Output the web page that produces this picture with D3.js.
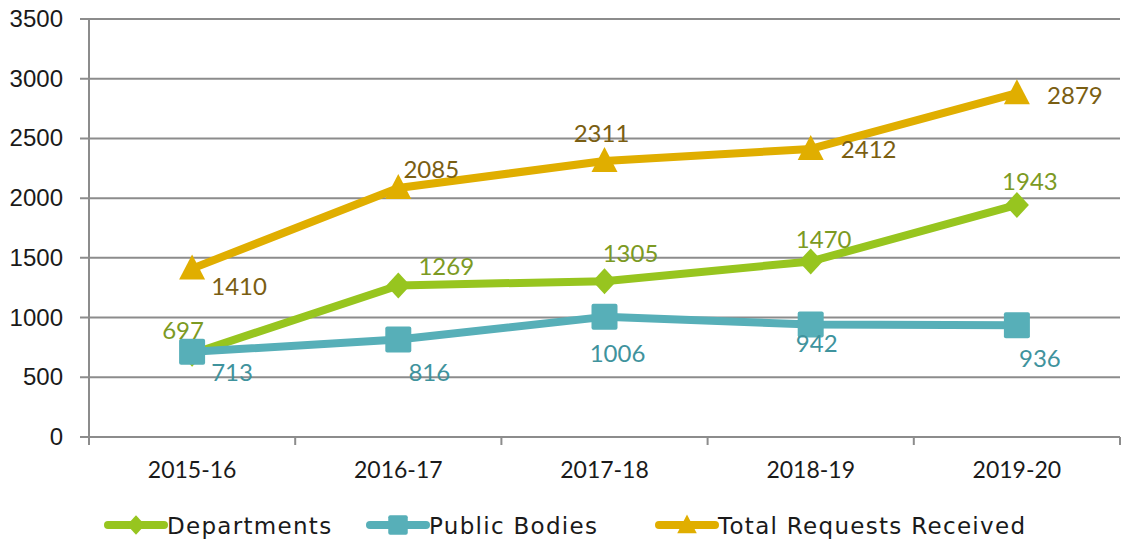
<!DOCTYPE html>
<html><head><meta charset="utf-8">
<script src="https://cdn.jsdelivr.net/npm/d3@7/dist/d3.min.js"></script>
<style>body{margin:0;background:#fff}svg{display:block}</style>
</head><body><svg id="c" width="1126" height="550"></svg>
<script>
const categories = ["2015-16","2016-17","2017-18","2018-19","2019-20"];
const departments = [697,1269,1305,1470,1943];
const publicBodies = [713,816,1006,942,936];
const totalRequests = [1410,2085,2311,2412,2879];
const yTicks = [0,500,1000,1500,2000,2500,3000,3500];
const seriesNames = ["Departments","Public Bodies","Total Requests Received"];

// label placement offsets relative to each point (layout, not data)
const labelOffsets = {
  dep: [[-9,-15],[48,-10],[26,-19],[13,-13],[13,-15]],
  pub: [[40,29],[31,41],[13,45],[6,28],[23,42]],
  tot: [[47,26],[33,-10],[-3,-19],[58,9],[58,11]]
};

const svg = d3.select("#c");
const m = {l:89, r:1120, t:19, b:437};
const x = d3.scaleBand().domain(categories).range([m.l, m.r]).padding(0);
const y = d3.scaleLinear().domain([0,3500]).range([m.b, m.t]);
const cx = c => x(c) + x.bandwidth()/2;
const grid = "#8c8c8c";
const labFont = "'Lato','Open Sans',sans-serif";
const legFont = "'DejaVu Sans',sans-serif";

// gridlines
svg.append("g").selectAll("line").data(yTicks).join("line")
  .attr("x1", m.l-9).attr("x2", m.r).attr("y1", d=>y(d)).attr("y2", d=>y(d))
  .attr("stroke", grid).attr("stroke-width", 2);
// y axis line
svg.append("line").attr("x1", m.l).attr("x2", m.l).attr("y1", m.t).attr("y2", m.b+8)
  .attr("stroke", grid).attr("stroke-width", 2);
// y labels
svg.append("g").selectAll("text").data(yTicks).join("text")
  .attr("x", 63).attr("y", d=>y(d)+8).attr("text-anchor","end")
  .attr("font-family","'Liberation Sans',Arial,sans-serif").attr("font-size",24).attr("fill","#1a1a1a")
  .text(d=>d);
// x ticks at band boundaries
const bounds = categories.map(c=>x(c)).concat([m.r]);
svg.append("g").selectAll("line").data(bounds).join("line")
  .attr("x1", d=>d).attr("x2", d=>d).attr("y1", m.b).attr("y2", m.b+8)
  .attr("stroke", grid).attr("stroke-width", 2);
// x labels
svg.append("g").selectAll("text").data(categories).join("text")
  .attr("x", d=>cx(d)).attr("y", 478).attr("text-anchor","middle")
  .attr("font-family",labFont).attr("font-size",23).attr("fill","#1a1a1a")
  .text(d=>d);

const series = [
  {key:"dep", vals:departments, color:"#97c51f", lab:"#7c9a23", marker:"diamond"},
  {key:"pub", vals:publicBodies, color:"#57afb8", lab:"#3f939d", marker:"square"},
  {key:"tot", vals:totalRequests, color:"#e0ae00", lab:"#7a5e12", marker:"triangle"}
];
const line = d3.line().x((d,i)=>cx(categories[i])).y(d=>y(d));

function drawMarker(g, type, px, py, color, s) {
  if (type==="diamond") {
    g.append("path").attr("d", `M${px},${py-13*s}L${px+12*s},${py}L${px},${py+13*s}L${px-12*s},${py}Z`).attr("fill",color);
  } else if (type==="square") {
    g.append("rect").attr("x",px-13*s).attr("y",py-13*s).attr("width",26*s).attr("height",26*s).attr("rx",2).attr("fill",color);
  } else {
    g.append("path").attr("d", `M${px},${py-14*s}L${px+13*s},${py+11*s}L${px-13*s},${py+11*s}Z`).attr("fill",color);
  }
}

series.forEach(s=>{
  const g = svg.append("g");
  g.append("path").datum(s.vals).attr("d", line).attr("fill","none")
    .attr("stroke", s.color).attr("stroke-width", 8).attr("stroke-linejoin","round");
  s.vals.forEach((v,i)=>drawMarker(g, s.marker, cx(categories[i]), y(v), s.color, 1));
});
series.forEach(s=>{
  svg.append("g").selectAll("text").data(s.vals).join("text")
    .attr("x", (d,i)=>cx(categories[i]) + labelOffsets[s.key][i][0])
    .attr("y", (d,i)=>y(d) + labelOffsets[s.key][i][1])
    .attr("text-anchor","middle").attr("font-family",labFont).attr("font-size",24)
    .attr("fill", s.lab).text(d=>d);
});

// legend
const legX = [108, 370, 659];
series.forEach((s,i)=>{
  const g = svg.append("g");
  const lx = legX[i], ly = 525;
  g.append("line").attr("x1",lx).attr("x2",lx+56).attr("y1",ly).attr("y2",ly)
    .attr("stroke",s.color).attr("stroke-width",8).attr("stroke-linecap","round");
  drawMarker(g, s.marker, lx+28, ly, s.color, 0.75);
  g.append("text").attr("x", lx+59).attr("y", 534).attr("font-family",legFont)
    .attr("font-size",23).attr("letter-spacing",1.3).attr("fill","#1a1a1a").text(seriesNames[i]);
});
</script></body></html>
